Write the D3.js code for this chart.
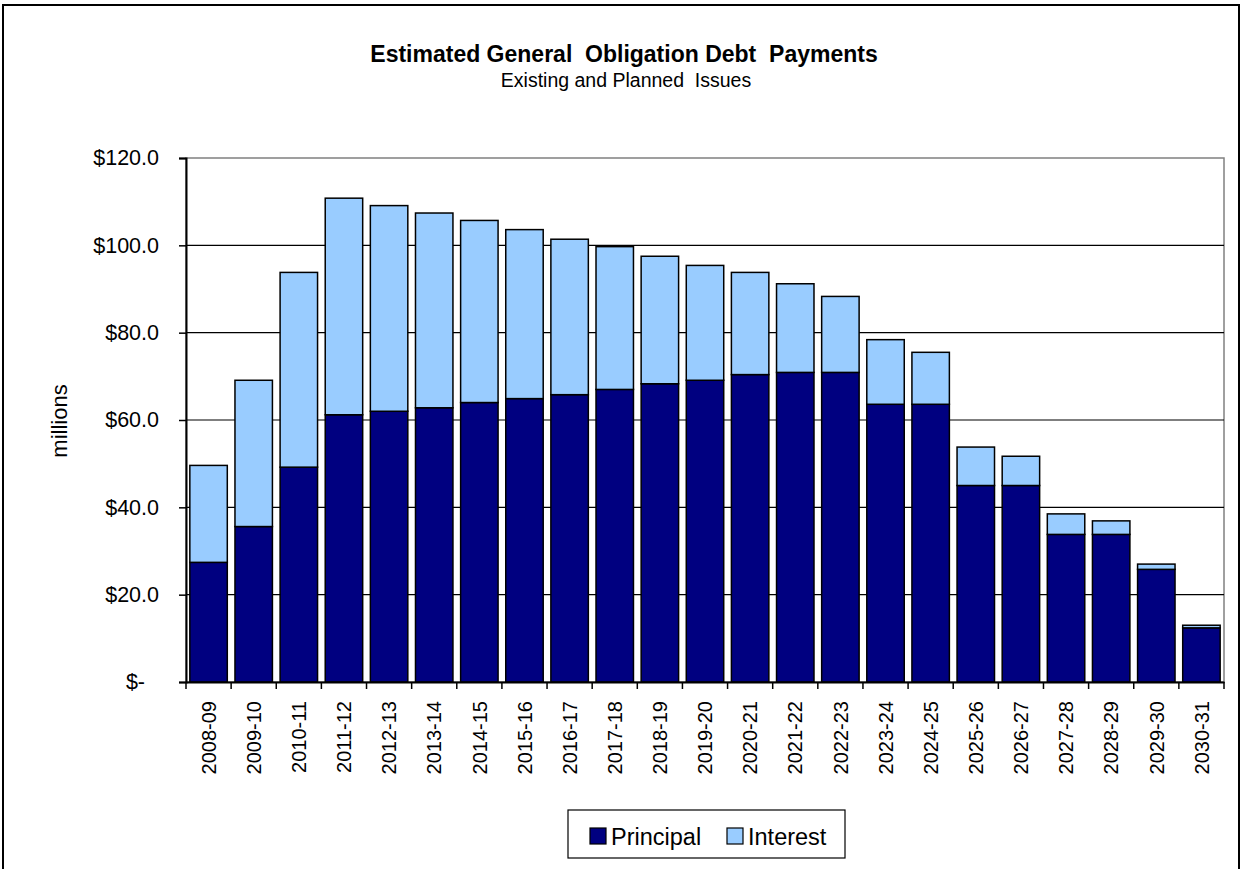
<!DOCTYPE html>
<html>
<head>
<meta charset="utf-8">
<script src="https://cdn.jsdelivr.net/npm/d3@7"></script>
<style>
  html, body { margin: 0; padding: 0; background: #fff; }
  svg { display: block; font-family: "Liberation Sans", Arial, sans-serif; }
</style>
</head>
<body>
<svg id="chart" width="1244" height="869"></svg>
<script>
// ---- data ----
const years = ["2008-09","2009-10","2010-11","2011-12","2012-13","2013-14","2014-15","2015-16","2016-17","2017-18","2018-19","2019-20","2020-21","2021-22","2022-23","2023-24","2024-25","2025-26","2026-27","2027-28","2028-29","2029-30","2030-31"];
const principal = [27.4, 35.6, 49.2, 61.2, 62.0, 62.8, 64.0, 64.9, 65.8, 67.0, 68.3, 69.1, 70.4, 70.9, 70.9, 63.6, 63.6, 45.0, 45.0, 33.8, 33.8, 25.8, 12.4];
const interest = [22.2, 33.5, 44.6, 49.6, 47.1, 44.6, 41.7, 38.7, 35.6, 32.7, 29.2, 26.3, 23.4, 20.3, 17.4, 14.8, 11.9, 8.8, 6.7, 4.7, 3.1, 1.2, 0.6];
const yTicks = [0, 20, 40, 60, 80, 100, 120];
const seriesNames = ["Principal", "Interest"];
const seriesColors = ["#000080", "#99CCFF"];

const svg = d3.select("#chart");
const plot = { left: 186, right: 1224, top: 158, bottom: 682 };

// outer border
svg.append("rect").attr("x", 3).attr("y", 5).attr("width", 1236).attr("height", 880)
  .attr("fill", "none").attr("stroke", "#000").attr("stroke-width", 2);

// titles
svg.append("text").attr("x", 624).attr("y", 62).attr("text-anchor", "middle")
  .attr("font-size", 23).attr("font-weight", "bold")
  .style("white-space", "pre").text("Estimated General  Obligation Debt  Payments");
svg.append("text").attr("x", 626).attr("y", 87).attr("text-anchor", "middle")
  .attr("font-size", 19.5).style("white-space", "pre").text("Existing and Planned  Issues");

const x = d3.scaleBand().domain(years).range([plot.left, plot.right]).paddingInner(0.17).paddingOuter(0.085);
const y = d3.scaleLinear().domain([0, 120]).range([plot.bottom, plot.top]);

// plot area frame (gray)
svg.append("rect").attr("x", plot.left).attr("y", plot.top)
  .attr("width", plot.right - plot.left).attr("height", plot.bottom - plot.top)
  .attr("fill", "none").attr("stroke", "#808080").attr("stroke-width", 1.5);

// gridlines
svg.append("g").selectAll("line").data(yTicks.filter(d => d > 0 && d < 120)).join("line")
  .attr("x1", plot.left).attr("x2", plot.right)
  .attr("y1", d => y(d)).attr("y2", d => y(d))
  .attr("stroke", "#000").attr("stroke-width", 1.2);

// stacked bars
const rows = years.map((yr, i) => ({ year: yr, Principal: principal[i], Interest: interest[i] }));
const stack = d3.stack().keys(seriesNames)(rows);
svg.append("g").selectAll("g").data(stack).join("g")
  .attr("fill", (d, i) => seriesColors[i])
  .selectAll("rect").data(d => d).join("rect")
  .attr("x", d => x(d.data.year))
  .attr("width", x.bandwidth())
  .attr("y", d => y(d[1]))
  .attr("height", d => y(d[0]) - y(d[1]))
  .attr("stroke", "#000").attr("stroke-width", 1.5);

// y axis
const yAxis = d3.axisLeft(y).tickValues(yTicks).tickSize(7).tickPadding(20)
  .tickFormat(d => d === 0 ? "$-" : "$" + d3.format(".1f")(d));
const gy = svg.append("g").attr("transform", `translate(${plot.left},0)`).call(yAxis);
gy.select(".domain").attr("stroke", "#000").attr("stroke-width", 2);
gy.selectAll(".tick line").attr("stroke", "#000").attr("stroke-width", 1.5);
gy.selectAll(".tick text").attr("font-size", 21.5).attr("fill", "#000")
  .attr("font-family", "Liberation Sans, Arial, sans-serif")
  .attr("dx", d => d === 0 ? -14 : 0);

// x axis
const gx = svg.append("g").attr("transform", `translate(0,${plot.bottom})`)
  .call(d3.axisBottom(x).tickSize(0).tickPadding(0));
gx.select(".domain").attr("stroke", "#000").attr("stroke-width", 2);
gx.selectAll(".tick text")
  .attr("font-size", 20).attr("fill", "#000")
  .attr("font-family", "Liberation Sans, Arial, sans-serif")
  .attr("text-anchor", "end")
  .attr("transform", "rotate(-90)")
  .attr("x", -19).attr("y", 0).attr("dy", "0.36em");
// category boundary ticks
const bounds = years.map(yr => x(yr) - x.step() * x.paddingInner() / 2);
bounds.push(plot.right);
bounds[0] = plot.left;
svg.append("g").selectAll("line").data(bounds).join("line")
  .attr("x1", d => d).attr("x2", d => d)
  .attr("y1", plot.bottom).attr("y2", plot.bottom + 7)
  .attr("stroke", "#000").attr("stroke-width", 1.5);

// y label
svg.append("text").attr("transform", "translate(67,421) rotate(-90)")
  .attr("text-anchor", "middle").attr("font-size", 22).text("millions");

// legend
const lg = svg.append("g");
lg.append("rect").attr("x", 568).attr("y", 810).attr("width", 277).attr("height", 48)
  .attr("fill", "#fff").attr("stroke", "#000").attr("stroke-width", 1.2);
const legendX = [590, 727];
seriesNames.forEach((name, i) => {
  lg.append("rect").attr("x", legendX[i]).attr("y", 828).attr("width", 16).attr("height", 16)
    .attr("fill", seriesColors[i]).attr("stroke", "#000").attr("stroke-width", 1.2);
  lg.append("text").attr("x", legendX[i] + 21).attr("y", 845).attr("font-size", 23.5).text(name);
});
</script>
</body>
</html>
